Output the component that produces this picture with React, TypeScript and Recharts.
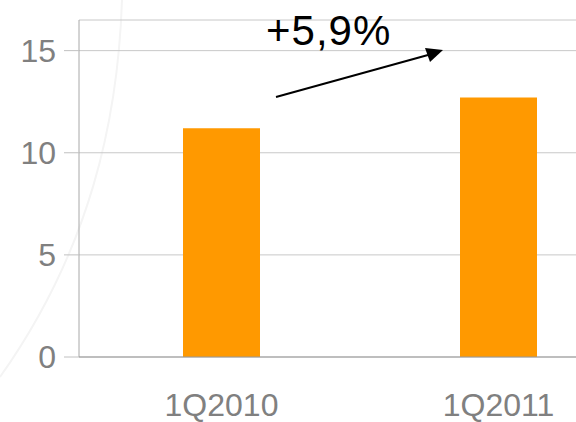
import React from 'react';
import { BarChart, Bar, XAxis, YAxis, CartesianGrid } from 'recharts';

const quarters = ['1Q2010', '1Q2011'];
const values = [11.2, 12.7];
const yTicks = [0, 5, 10, 15];
const growthLabel = '+5,9%';

const chartData = quarters.map((q, i) => ({ quarter: q, value: values[i] }));

const tickStyle = { fontFamily: '"Liberation Sans", Arial, sans-serif', fontSize: 32, fill: '#808080' };

export default function App() {
  return (
    <div
      style={{
        position: 'absolute',
        left: 0,
        top: 0,
        width: 576,
        height: 422,
        overflow: 'hidden',
        background: '#fff',
      }}
    >
      {/* faint decorative arc in the background */}
      <svg width={576} height={422} style={{ position: 'absolute', left: 0, top: 0 }}>
        <path d="M122,0 C118,120 90,250 0,377" fill="none" stroke="#f4f4f4" strokeWidth={2} />
      </svg>

      <div style={{ position: 'absolute', left: 0, top: 0 }}>
        <BarChart
          width={640}
          height={422}
          data={chartData}
          margin={{ top: 20, right: 3, bottom: 0, left: 0 }}
        >
          <CartesianGrid vertical={false} stroke="#c8c8c8" />
          <YAxis
            width={79}
            domain={[0, 16.5]}
            ticks={yTicks}
            interval={0}
            tickSize={15}
            tickMargin={8}
            axisLine={{ stroke: '#a8a8a8' }}
            tickLine={{ stroke: '#c0c0c0' }}
            tick={tickStyle}
          />
          <XAxis
            dataKey="quarter"
            height={65}
            padding={{ left: 4, right: 0 }}
            tickSize={0}
            tickMargin={36}
            tickLine={false}
            axisLine={{ stroke: '#999999' }}
            tick={tickStyle}
          />
          <Bar dataKey="value" fill="#FF9900" barSize={77} isAnimationActive={false} />
        </BarChart>
      </div>

      {/* growth annotation */}
      <svg width={576} height={422} style={{ position: 'absolute', left: 0, top: 0, pointerEvents: 'none' }}>
        <text
          x={266}
          y={45}
          fontFamily='"Liberation Sans", Arial, sans-serif'
          fontSize={42}
          letterSpacing={1}
          fill="#000"
        >
          {growthLabel}
        </text>
        <line x1={276} y1={97} x2={428} y2={55} stroke="#000" strokeWidth={2} />
        <polygon points="443,50 425,48 430,62" fill="#000" />
      </svg>
    </div>
  );
}
